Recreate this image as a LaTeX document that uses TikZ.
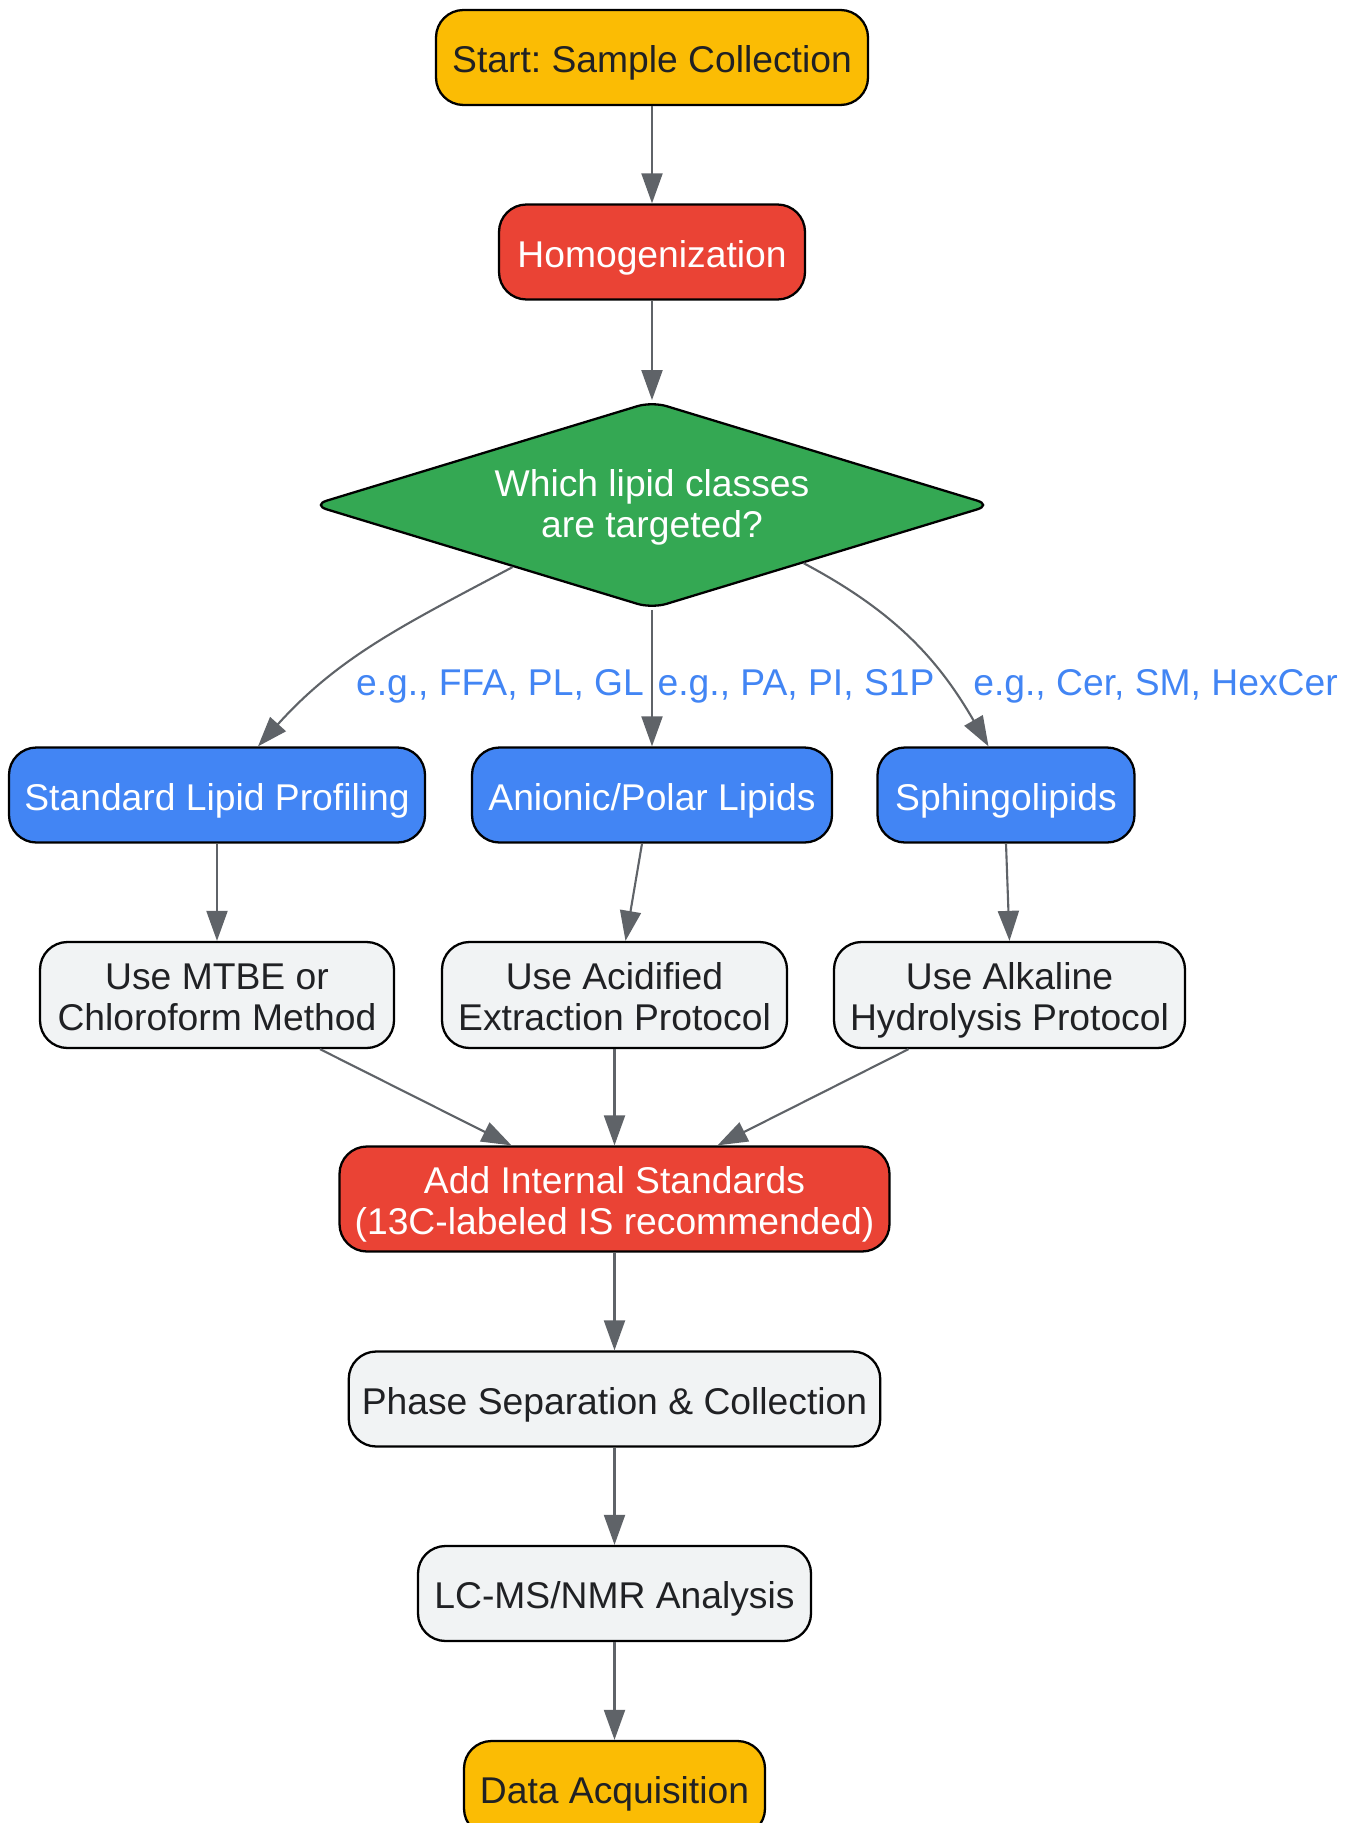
\documentclass[tikz,border=0pt]{standalone}
\usepackage{fontspec}
\setmainfont{Liberation Sans}
\usetikzlibrary{shapes.geometric,arrows.meta}
\definecolor{startyellow}{HTML}{FBBC04}
\definecolor{stepred}{HTML}{EA4335}
\definecolor{askgreen}{HTML}{34A853}
\definecolor{classblue}{HTML}{4285F4}
\definecolor{protgray}{HTML}{F1F3F4}
\definecolor{inkdark}{HTML}{202124}
\definecolor{linkgray}{HTML}{5F6368}
\newcommand{\dropstrut}{\rule[-0.157cm]{0pt}{0.927cm}}
\frenchspacing
\begin{document}
\begin{tikzpicture}[
    every node/.style={font=\fontsize{21.2}{23.4}\selectfont, execute at begin node=\dropstrut},
    box/.style={draw=black, line width=1.3pt, rounded corners=0.55cm, minimum height=1.9cm, align=center, inner sep=0pt},
    twoline/.style={minimum height=2.12cm, text height=1.58cm, text depth=0.157cm},
    terminal/.style={box, fill=startyellow, text=inkdark},
    action/.style={box, fill=stepred, text=white},
    lipidclass/.style={box, fill=classblue, text=white},
    protocol/.style={box, fill=protgray, text=inkdark},
    question/.style={diamond, aspect=3.3, draw=black, line width=1.3pt, rounded corners=0.3cm, fill=askgreen, text=white, align=center, inner sep=0pt, text height=1.46cm, text depth=0.157cm},
    link/.style={draw=linkgray, line width=1.2pt, -{Triangle[length=0.6cm,width=0.42cm]}},
    linklabel/.style={text=classblue}
  ]
      \useasboundingbox (0,0) rectangle (27.1,-36.46);

      % Start and homogenization
      \node[terminal, minimum width=8.64cm] (start) at (13.04,-1.15) {Start: Sample Collection};
      \node[action, minimum width=6.12cm] (homog) at (13.04,-5.04) {Homogenization};

      % Decision on lipid classes
      \node[question, minimum width=13.6cm, minimum height=4.15cm] (dec) at (13.04,-10.1) {Which lipid classes\\are targeted?};

      % Lipid class branches
      \node[lipidclass, minimum width=8.32cm] (std) at (4.34,-15.9) {Standard Lipid Profiling};
      \node[lipidclass, minimum width=7.2cm] (anionic) at (13.04,-15.9) {Anionic/Polar Lipids};
      \node[lipidclass, minimum width=5.14cm] (sphingo) at (20.12,-15.9) {Sphingolipids};

      % Extraction protocols
      \node[protocol, twoline, minimum width=7.08cm] (mtbe) at (4.34,-19.9) {Use MTBE or\\Chloroform Method};
      \node[protocol, twoline, minimum width=6.9cm] (acid) at (12.29,-19.9) {Use Acidified\\Extraction Protocol};
      \node[protocol, twoline, minimum width=7.02cm] (alk) at (20.19,-19.9) {Use Alkaline\\Hydrolysis Protocol};

      % Common steps
      \node[action, twoline, minimum width=11cm, minimum height=2.1cm] (istd) at (12.29,-23.98) {Add Internal Standards\\(13C-labeled IS recommended)};
      \node[protocol, minimum width=10.63cm] (phase) at (12.29,-27.98) {Phase Separation \& Collection};
      \node[protocol, minimum width=7.86cm] (lcms) at (12.29,-31.87) {LC-MS/NMR Analysis};
      \node[terminal, minimum width=6.02cm] (acq) at (12.29,-35.77) {Data Acquisition};

      % Labels on branches
      \node[linklabel] (lblstd) at (10.0,-13.61) {e.g., FFA, PL, GL};
      \node[linklabel] (lblpolar) at (15.92,-13.61) {e.g., PA, PI, S1P};
      \node[linklabel] (lblsph) at (23.11,-13.61) {e.g., Cer, SM, HexCer};

      % Connectors
      \draw[link] (start) -- (homog);
      \draw[link] (homog.south) -- (dec.north);
      \draw[link] (dec.204) to[out=208,in=48] ([xshift=0.82cm]std.north);
      \draw[link] (dec.south) -- (anionic.north);
      \draw[link] (dec.-21) to[out=-28,in=120] ([xshift=-0.35cm]sphingo.north);
      \draw[link] (std) -- (mtbe);
      \draw[link] ([xshift=-0.2cm]anionic.south) -- ([xshift=0.22cm]acid.north);
      \draw[link] (sphingo.south) -- (alk.north);
      \draw[link] ([xshift=2.06cm]mtbe.south) -- ([xshift=-2.06cm]istd.north);
      \draw[link] (acid) -- (istd);
      \draw[link] ([xshift=-2.02cm]alk.south) -- ([xshift=2.06cm]istd.north);
      \draw[link] (istd) -- (phase);
      \draw[link] (phase) -- (lcms);
      \draw[link] (lcms) -- (acq);
\end{tikzpicture}
\end{document}
